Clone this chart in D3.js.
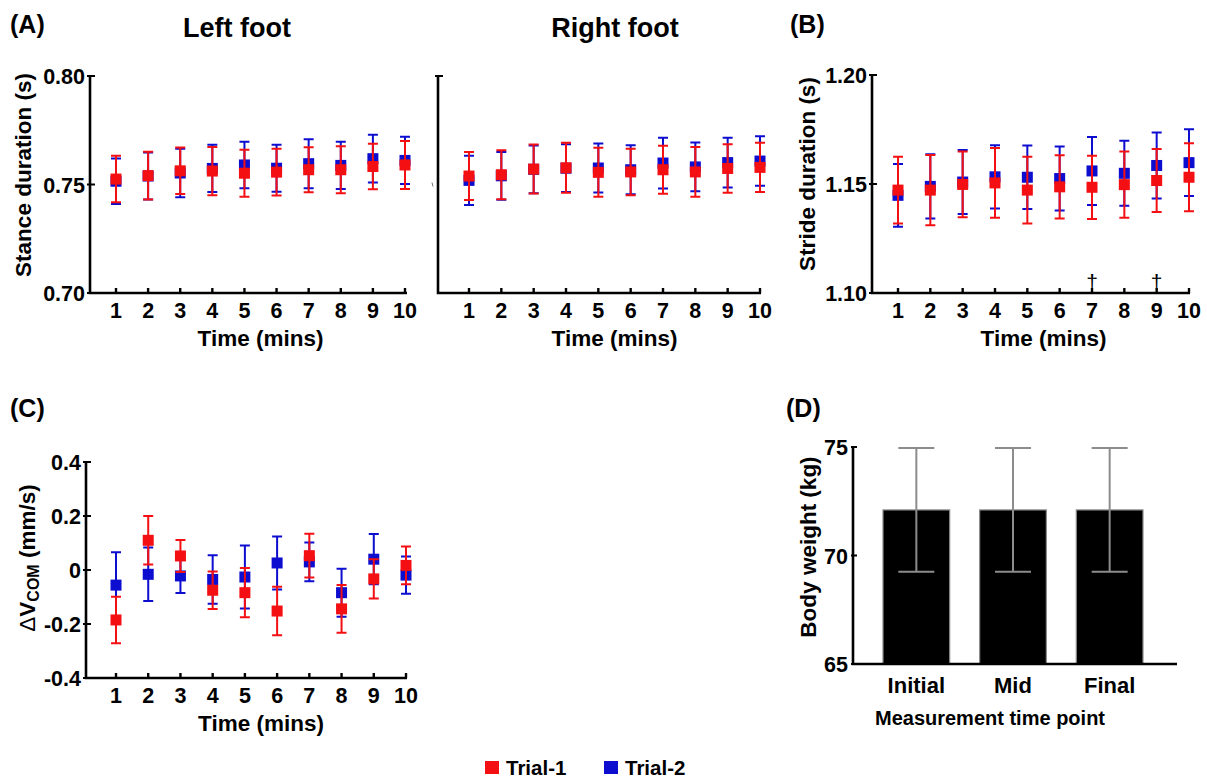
<!DOCTYPE html>
<html>
<head>
<meta charset="utf-8">
<script src="https://d3js.org/d3.v7.min.js"></script>
<style>
  body { margin: 0; background: #fff; }
  text { font-family: "Liberation Sans", Arial, sans-serif; font-weight: bold; fill: #000; }
</style>
</head>
<body>
<div id="chart"></div>
<script>
// time points (mins)
var minutes = [1, 2, 3, 4, 5, 6, 7, 8, 9, 10];

// (A) stance duration, left foot
var leftTrial1 = [0.7525, 0.7541, 0.7563, 0.7562, 0.7552, 0.7557, 0.7568, 0.7568, 0.7583, 0.7590];
var leftTrial1Sd = [0.0107, 0.0110, 0.0107, 0.0111, 0.0108, 0.0108, 0.0104, 0.0108, 0.0105, 0.0111];
var leftTrial2 = [0.7515, 0.7539, 0.7553, 0.7574, 0.7590, 0.7575, 0.7596, 0.7588, 0.7619, 0.7611];
var leftTrial2Sd = [0.0105, 0.0108, 0.0112, 0.0109, 0.0107, 0.0108, 0.0113, 0.0109, 0.0110, 0.0109];

// (A) stance duration, right foot
var rightTrial1 = [0.7539, 0.7545, 0.7571, 0.7577, 0.7556, 0.7558, 0.7568, 0.7558, 0.7574, 0.7579];
var rightTrial1Sd = [0.0111, 0.0113, 0.0113, 0.0115, 0.0113, 0.0107, 0.0111, 0.0115, 0.0112, 0.0113];
var rightTrial2 = [0.7519, 0.7540, 0.7570, 0.7575, 0.7576, 0.7568, 0.7599, 0.7581, 0.7601, 0.7608];
var rightTrial2Sd = [0.0113, 0.0110, 0.0110, 0.0110, 0.0113, 0.0113, 0.0117, 0.0112, 0.0115, 0.0114];

// (B) stride duration
var strideTrial1 = [1.1472, 1.1472, 1.1498, 1.1505, 1.1472, 1.1487, 1.1485, 1.1497, 1.1516, 1.1531];
var strideTrial1Sd = [0.0153, 0.0161, 0.0151, 0.0160, 0.0153, 0.0145, 0.0145, 0.0152, 0.0145, 0.0156];
var strideTrial2 = [1.1448, 1.1489, 1.1509, 1.1533, 1.1531, 1.1525, 1.1560, 1.1549, 1.1585, 1.1598];
var strideTrial2Sd = [0.0144, 0.0147, 0.0147, 0.0145, 0.0146, 0.0147, 0.0156, 0.0149, 0.0151, 0.0153];
var strideMarks = [7, 9];

// (C) change in COM velocity
var vcomTrial1 = [-0.185, 0.110, 0.052, -0.075, -0.084, -0.152, 0.053, -0.144, -0.033, 0.017];
var vcomTrial1Sd = [0.086, 0.090, 0.059, 0.069, 0.091, 0.090, 0.081, 0.088, 0.073, 0.070];
var vcomTrial2 = [-0.056, -0.016, -0.022, -0.035, -0.026, 0.026, 0.030, -0.084, 0.040, -0.019];
var vcomTrial2Sd = [0.122, 0.099, 0.063, 0.090, 0.117, 0.098, 0.072, 0.089, 0.093, 0.069];

// (D) body weight
var timePoints = ["Initial", "Mid", "Final"];
var bodyWeight = [72.1, 72.1, 72.1];
var bodyWeightSd = [2.85, 2.85, 2.85];

var trials = ["Trial-1", "Trial-2"];
var trialColors = ["#f40f12", "#0d0dcf"];

var svg = d3.select("#chart")
  .append("svg")
  .attr("width", 1207)
  .attr("height", 778);

// draws one time series panel with both trials
function timePanel(p) {
  var g = svg.append("g");
  var x = d3.scaleLinear().domain([1, 10]).range([p.x1, p.x10]);
  var y = d3.scaleLinear().domain(p.domain).range([p.bottom, p.top]);

  // axes
  g.append("path")
    .attr("d", "M" + p.axisX + "," + p.top + "V" + p.bottom + "H" + p.axisEnd)
    .attr("fill", "none").attr("stroke", "#000").attr("stroke-width", 2.6);

  g.selectAll(".xtick").data(minutes).enter().append("line")
    .attr("x1", function(d) { return x(d); }).attr("x2", function(d) { return x(d); })
    .attr("y1", p.bottom).attr("y2", p.bottom - 5)
    .attr("stroke", "#000").attr("stroke-width", 2.4);

  g.selectAll(".ytick").data(p.tickLabels ? p.ticks : [p.domain[1]]).enter().append("line")
    .attr("x1", p.axisX - 3).attr("x2", p.axisX + 5)
    .attr("y1", function(d) { return y(d); }).attr("y2", function(d) { return y(d); })
    .attr("stroke", "#000").attr("stroke-width", 2);

  g.selectAll(".xlab").data(minutes).enter().append("text")
    .attr("x", function(d) { return x(d); })
    .attr("y", p.bottom + 25)
    .attr("text-anchor", "middle")
    .style("font-size", "21.5px")
    .text(function(d) { return d; });

  if (p.tickLabels) {
    g.selectAll(".ylab").data(p.ticks).enter().append("text")
      .attr("x", p.axisX - 5)
      .attr("y", function(d) { return y(d) + 8; })
      .attr("text-anchor", "end")
      .style("font-size", "21.5px")
      .text(function(d, i) { return p.tickLabels[i]; });
  }

  g.append("text")
    .attr("x", (p.x1 + p.x10) / 2)
    .attr("y", p.bottom + 53)
    .attr("text-anchor", "middle")
    .style("font-size", "22.5px")
    .text("Time (mins)");

  // trial 2 first, trial 1 sits on top
  var series = [
    {mean: p.t2, sd: p.t2sd, color: trialColors[1]},
    {mean: p.t1, sd: p.t1sd, color: trialColors[0]}
  ];
  series.forEach(function(s) {
    var pts = minutes.map(function(m, i) { return {m: m, v: s.mean[i], sd: s.sd[i]}; });
    var eg = g.append("g");
    eg.selectAll(".err").data(pts).enter().append("path")
      .attr("d", function(d) {
        var cx = x(d.m), hi = y(d.v + d.sd), lo = y(d.v - d.sd);
        return "M" + (cx - 5) + "," + hi + "H" + (cx + 5) +
               "M" + cx + "," + hi + "V" + lo +
               "M" + (cx - 5) + "," + lo + "H" + (cx + 5);
      })
      .attr("fill", "none").attr("stroke", s.color).attr("stroke-width", 2);
    eg.selectAll(".pt").data(pts).enter().append("rect")
      .attr("x", function(d) { return x(d.m) - 5.5; })
      .attr("y", function(d) { return y(d.v) - 5.5; })
      .attr("width", 11).attr("height", 11)
      .attr("fill", s.color);
  });
  return {g: g, x: x, y: y};
}

// panel A, left foot
timePanel({
  axisX: 90, x1: 116, x10: 405, axisEnd: 407, top: 76, bottom: 293,
  domain: [0.70, 0.80], ticks: [0.70, 0.75, 0.80], tickLabels: ["0.70", "0.75", "0.80"],
  t1: leftTrial1, t1sd: leftTrial1Sd, t2: leftTrial2, t2sd: leftTrial2Sd
});

// panel A, right foot
var pr = timePanel({
  axisX: 438, x1: 469, x10: 760, axisEnd: 761, top: 76, bottom: 293,
  domain: [0.70, 0.80], ticks: [0.70, 0.75, 0.80], tickLabels: null,
  t1: rightTrial1, t1sd: rightTrial1Sd, t2: rightTrial2, t2sd: rightTrial2Sd
});
// faint mark left of the right-foot axis
pr.g.append("line").attr("x1", 432).attr("x2", 433)
  .attr("y1", pr.y(0.75) - 2).attr("y2", pr.y(0.75) + 2)
  .attr("stroke", "#777").attr("stroke-width", 1);

// panel B
var pb = timePanel({
  axisX: 872, x1: 898, x10: 1189, axisEnd: 1190, top: 75, bottom: 293,
  domain: [1.10, 1.20], ticks: [1.10, 1.15, 1.20], tickLabels: ["1.10", "1.15", "1.20"],
  t1: strideTrial1, t1sd: strideTrial1Sd, t2: strideTrial2, t2sd: strideTrial2Sd
});
pb.g.selectAll(".dagger").data(strideMarks).enter().append("text")
  .attr("x", function(d) { return pb.x(d); })
  .attr("y", 289)
  .attr("text-anchor", "middle")
  .style("font-size", "21px")
  .style("font-weight", "normal")
  .text("\u2020");

// panel C
timePanel({
  axisX: 86, x1: 116, x10: 406, axisEnd: 407, top: 462, bottom: 678,
  domain: [-0.4, 0.4], ticks: [-0.4, -0.2, 0, 0.2, 0.4],
  tickLabels: ["-0.4", "-0.2", "0", "0.2", "0.4"],
  t1: vcomTrial1, t1sd: vcomTrial1Sd, t2: vcomTrial2, t2sd: vcomTrial2Sd
});

// panel D, bars
var dTop = 447, dBottom = 664, dAxisX = 853;
var xd = d3.scaleBand().domain(timePoints).range([883, 1143]).paddingInner(0.31).paddingOuter(0);
var yd = d3.scaleLinear().domain([65, 75]).range([dBottom, dTop]);
var dg = svg.append("g");
var bars = timePoints.map(function(t, i) { return {t: t, v: bodyWeight[i], sd: bodyWeightSd[i]}; });

dg.selectAll(".bar").data(bars).enter().append("rect")
  .attr("x", function(d) { return xd(d.t); })
  .attr("y", function(d) { return yd(d.v); })
  .attr("width", xd.bandwidth())
  .attr("height", function(d) { return yd(65) - yd(d.v); })
  .attr("fill", "#000").attr("stroke", "#8a8a8a").attr("stroke-width", 1.2);

dg.selectAll(".berr").data(bars).enter().append("path")
  .attr("d", function(d) {
    var cx = xd(d.t) + xd.bandwidth() / 2, hi = yd(d.v + d.sd), lo = yd(d.v - d.sd);
    return "M" + (cx - 18) + "," + hi + "H" + (cx + 18) +
           "M" + cx + "," + hi + "V" + lo +
           "M" + (cx - 18) + "," + lo + "H" + (cx + 18);
  })
  .attr("fill", "none").attr("stroke", "#8c8c8c").attr("stroke-width", 2);

dg.append("path")
  .attr("d", "M" + dAxisX + "," + dTop + "V" + dBottom + "H1177")
  .attr("fill", "none").attr("stroke", "#000").attr("stroke-width", 2.6);

dg.selectAll(".dtick").data([65, 70, 75]).enter().append("line")
  .attr("x1", dAxisX - 2).attr("x2", dAxisX + 4)
  .attr("y1", function(d) { return yd(d); }).attr("y2", function(d) { return yd(d); })
  .attr("stroke", "#000").attr("stroke-width", 2);

dg.selectAll(".dylab").data([65, 70, 75]).enter().append("text")
  .attr("x", dAxisX - 5)
  .attr("y", function(d) { return yd(d) + 8; })
  .attr("text-anchor", "end")
  .style("font-size", "21.5px")
  .text(function(d) { return d; });

dg.selectAll(".dxlab").data(timePoints).enter().append("text")
  .attr("x", function(d) { return xd(d) + xd.bandwidth() / 2; })
  .attr("y", 693)
  .attr("text-anchor", "middle")
  .style("font-size", "22px")
  .text(function(d) { return d; });

dg.append("text").attr("x", 990).attr("y", 725).attr("text-anchor", "middle")
  .style("font-size", "20px").text("Measurement time point");

// y axis titles
function yTitle(x, y, txt) {
  return svg.append("text")
    .attr("transform", "translate(" + x + "," + y + ") rotate(-90)")
    .attr("text-anchor", "middle")
    .style("font-size", "22.5px")
    .text(txt);
}
yTitle(31, 175, "Stance duration (s)");
yTitle(815, 174, "Stride duration (s)");
yTitle(816, 547, "Body weight (kg)");

var vt = svg.append("text")
  .attr("transform", "translate(35,558) rotate(-90)")
  .attr("text-anchor", "middle")
  .style("font-size", "22.5px");
vt.append("tspan").style("font-weight", "normal").text("\u0394");
vt.append("tspan").text("V");
vt.append("tspan").style("font-size", "16px").attr("dy", 4).text("COM");
vt.append("tspan").attr("dy", -4).text(" (mm/s)");

// panel titles and letters
svg.append("text").attr("x", 237).attr("y", 37).attr("text-anchor", "middle")
  .style("font-size", "27px").text("Left foot");
svg.append("text").attr("x", 615).attr("y", 37).attr("text-anchor", "middle")
  .style("font-size", "27px").text("Right foot");
svg.append("text").attr("x", 10).attr("y", 33).style("font-size", "25px").text("(A)");
svg.append("text").attr("x", 790).attr("y", 33).style("font-size", "25px").text("(B)");
svg.append("text").attr("x", 10).attr("y", 417).style("font-size", "25px").text("(C)");
svg.append("text").attr("x", 786).attr("y", 417).style("font-size", "25px").text("(D)");

// legend
var legX = [485, 604];
var leg = svg.append("g");
leg.selectAll("rect").data(trials).enter().append("rect")
  .attr("x", function(d, i) { return legX[i]; })
  .attr("y", 761).attr("width", 14).attr("height", 13)
  .attr("fill", function(d, i) { return trialColors[i]; });
leg.selectAll("text").data(trials).enter().append("text")
  .attr("x", function(d, i) { return legX[i] + 21; })
  .attr("y", 775)
  .style("font-size", "20.5px")
  .text(function(d) { return d; });
</script>
</body>
</html>
